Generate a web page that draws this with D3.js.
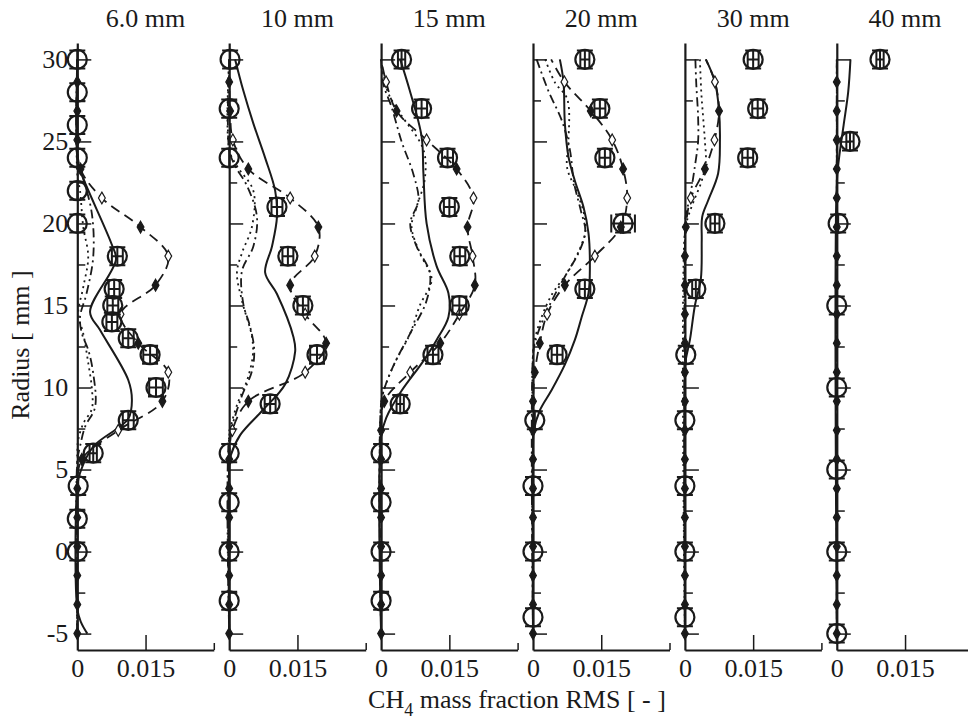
<!DOCTYPE html>
<html>
<head>
<meta charset="utf-8">
<script src="https://cdn.jsdelivr.net/npm/d3@7.9.0/dist/d3.min.js"></script>
<style>
  body { margin: 0; background: #fff; }
  svg text { font-family: "Liberation Serif", "Times New Roman", serif; fill: #1a1a1a; }
</style>
</head>
<body>
<svg id="chart" width="968" height="722"></svg>
<script>
const PANELS = ['6.0 mm', '10 mm', '15 mm', '20 mm', '30 mm', '40 mm'];
const Y_TICKS = [-5, 0, 5, 10, 15, 20, 25, 30];
const Y_MINOR = [-2.5, 2.5, 7.5, 12.5, 17.5, 22.5, 27.5];
const X_TICKS = [0, 0.015];

// radius of the marker points on the dashed model curve
const MARK_Y = [-5, -3.23, -1.46, 0.31, 2.08, 3.85, 5.62, 7.39, 9.16, 10.93, 12.70,
  14.47, 16.24, 18.01, 19.78, 21.55, 23.32, 25.09, 26.86, 28.63];

// experiments: [rms, radius, x error]
const exp06 = [[0,30,0],[0,28,0],[0,26,0],[0,24,0],[0,22,0],[0,20,0],[0.0088,18,0.0012],
  [0.0081,16,0.0012],[0.0078,15,0.0012],[0.0076,14,0.0012],[0.0112,13,0.0012],[0.016,12,0.0015],
  [0.0173,10,0.0015],[0.0112,8,0.0012],[0.0035,6,0.0008],[0.0002,4,0],[0,2,0],[0,0,0]];
const exp10 = [[0.0002,30,0],[0,27,0],[0,24,0],[0.0105,21,0.0012],[0.0129,18,0.0012],
  [0.0162,15,0.0012],[0.0193,12,0.0015],[0.009,9,0.0012],[0,6,0],[0,3,0],[0,0,0],[0,-3,0]];
const exp15 = [[0.0045,30,0.0008],[0.0089,27,0.0012],[0.0146,24,0.0012],[0.015,21,0.0012],
  [0.0173,18,0.0012],[0.0172,15,0.0015],[0.0114,12,0.0012],[0.0042,9,0.0008],[0,6,0],[0,3,0],[0,0,0],[0,-3,0]];
const exp20 = [[0.0114,30,0.001],[0.0147,27,0.0012],[0.0158,24,0.0012],[0.0198,20,0.0026],
  [0.0114,16,0.0012],[0.0053,12,0.0012],[0.0004,8,0],[0,4,0],[0,0,0],[0,-4,0]];
const exp30 = [[0.015,30,0.0012],[0.016,27,0.0012],[0.0138,24,0.0012],[0.0066,20,0.001],
  [0.0024,16,0.0008],[0.0002,12,0],[0,8,0],[0,4,0],[0,0,0],[0,-4,0]];
const exp40 = [[0.0095,30,0.0008],[0.0029,25,0.0008],[0.0003,20,0],[0,15,0],[0,10,0],[0,5,0],[0,0,0],[0,-5,0]];

// solid model curve: [rms, radius]
const solid06 = [[0,30],[0,24],[0.0006,23.25],[0.0076,18.7],[0.0085,17.8],[0.0028,14.6],[0.005,13.5],
  [0.0112,10.46],[0.012,9.24],[0.0112,8.1],[0.0035,6.4],[0.0006,4.8],[0,4],[0,-3.5],[0.0008,-4.3],[0.0022,-5]];
const solid10 = [[0.0013,30],[0.0031,28.1],[0.0053,26.1],[0.0079,24],[0.0101,22],[0.0105,20.4],[0.0094,18.6],
  [0.0079,17],[0.0105,15.7],[0.0141,13.1],[0.0145,12.2],[0.0123,10.2],[0.0073,8.6],[0.0024,7.1],[0.0004,5.9],[0,5],[0,-5]];
const solid15 = [[0.0042,30],[0.0063,28.1],[0.0089,25.3],[0.0093,23.05],[0.01,20],[0.0122,17.4],[0.0148,15.75],
  [0.0148,14.3],[0.0122,12.9],[0.009,11.5],[0.0045,9.8],[0.0012,8.2],[0,7],[0,-5]];
const solid20 = [[0.0059,30],[0.0067,28.64],[0.007,26.1],[0.0078,24.06],[0.0092,22.6],[0.0111,21],[0.0122,19.4],
  [0.0125,17.4],[0.0122,15.75],[0.0107,14.3],[0.0092,12.9],[0.007,11.4],[0.004,9.8],[0.0015,8.6],[0.0002,7.4],[0,6.5],[0,-5]];
const solid30 = [[0.0046,30],[0.0066,28.64],[0.0075,26.87],[0.0077,25.1],[0.0073,23.05],[0.0051,21.4],[0.0038,20.4],
  [0.0037,19],[0.0035,16.6],[0.0022,15],[0.0011,12.9],[0.0002,11.7],[0,11],[0,-5]];
const solid40 = [[0.003,30],[0.0025,28],[0.0015,26],[0.0005,24],[0,22.5],[0,-5]];

// dashed model curve with diamonds: rms at MARK_Y, then the value at r = 30
const diam06 = [0,0,0,0,0,0,0.001,0.009,0.0187,0.02,0.0134,0.0095,0.0172,0.02,0.0139,0.0054,0.0007,0,0,0];
const diam10 = [0,0,0,0,0,0,0,0.0007,0.0042,0.0167,0.0213,0.0167,0.0134,0.0188,0.0196,0.0134,0.0042,0.0008,0.0002,0];
const diam15 = [0,0,0,0,0,0,0,0,0.0007,0.0064,0.013,0.0172,0.0206,0.0201,0.019,0.0203,0.0166,0.01,0.0034,0.0011];
const diam20 = [0,0,0,0,0,0,0,0,0,0.0004,0.0015,0.0031,0.007,0.0136,0.0193,0.0207,0.0198,0.0174,0.0127,0.0069];
const diam30 = [0,0,0,0,0,0,0,0,0,0,0,0,0,0,0.0002,0.0013,0.0044,0.0065,0.0075,0.0066];
const diam40 = [0,0,0,0,0,0,0,0,0,0,0,0,0,0,0,0,0,0,0,0];
const diamTop = [0, 0, 0, 0.004, 0.0046, 0];

// dash-dot model curve
const dashdot06 = [[0,30],[0,24],[0.001,23.05],[0.0032,20.6],[0.0035,17.97],[0.002,15.7],[0.0006,14.3],[0.001,13.3],
  [0.0024,12.3],[0.0035,10.86],[0.0039,8.8],[0.0017,7.6],[0.0006,6.4],[0,5.5],[0,-5]];
const dashdot10 = [[0,30],[0,24.5],[0.0013,23.5],[0.0039,22.3],[0.0061,20.4],[0.0053,18.6],[0.0028,17.1],[0.0031,15.1],
  [0.0046,13.7],[0.0055,12.3],[0.005,11],[0.0028,9.5],[0.001,8],[0,7],[0,-5]];
const dashdot15 = [[0,30],[0.0005,28.5],[0.0023,27.1],[0.0045,25],[0.0071,23],[0.0082,21.4],[0.0064,20],[0.0078,18.6],
  [0.0107,17],[0.01,15.3],[0.0064,13.3],[0.003,11.5],[0.0008,10],[0,9],[0,-5]];
const dashdot20 = [[0.0008,30],[0.0035,28],[0.0063,26.3],[0.0081,24.5],[0.009,22.5],[0.0105,20.8],[0.0115,19.5],
  [0.01,18.2],[0.0075,17],[0.0045,15.5],[0.002,14],[0.0005,12.8],[0,12],[0,-5]];
const dashdot30 = [[0.0023,30],[0.0025,28.5],[0.0029,26.5],[0.0029,25],[0.0022,23.5],[0.0011,21.6],[0.0002,20.5],[0,19.5],[0,-5]];
const dashdot40 = [[0,30],[0,-5]];

// dotted model curve
const dotted06 = [[0,30],[0,23],[0.0006,22],[0.0013,19.8],[0.0024,17.97],[0.0013,16.1],[0.0002,14.5],[0.0013,13.3],
  [0.0024,11.5],[0.0032,9.95],[0.0032,8.7],[0.0013,7.8],[0.0002,6.8],[0,6],[0,-5]];
const dotted10 = [[0,30],[0,24.5],[0.0017,23.5],[0.0053,22],[0.005,19.8],[0.0028,18.2],[0.0017,17],[0.0028,15.3],
  [0.005,13.1],[0.0052,12],[0.004,10.5],[0.0018,9],[0.0005,7.8],[0,7],[0,-5]];
const dotted15 = [[0,30],[0.0015,28],[0.0042,26.7],[0.0093,24.5],[0.0096,22.7],[0.0078,21],[0.0067,19.8],[0.0085,18.2],
  [0.0111,16.6],[0.0085,15],[0.0064,13.3],[0.003,11.5],[0.0008,10],[0,9],[0,-5]];
const dotted20 = [[0.0027,30],[0.0048,28.6],[0.0075,27.6],[0.0078,25],[0.0075,23.4],[0.0095,22],[0.0112,20.6],
  [0.0115,19.5],[0.0105,18.6],[0.008,17.2],[0.004,15.6],[0.0015,14],[0.0003,12.8],[0,12],[0,-5]];
const dotted30 = [[0.0033,30],[0.0036,28],[0.004,26.5],[0.0044,25],[0.0046,23.8],[0.0037,22.6],[0.002,21.4],[0.0007,20.4],[0,19.5],[0,-5]];
const dotted40 = [[0,30],[0,-5]];

const EXP = [exp06, exp10, exp15, exp20, exp30, exp40];
const SOLID = [solid06, solid10, solid15, solid20, solid30, solid40];
const DIAM = [diam06, diam10, diam15, diam20, diam30, diam40];
const DASHDOT = [dashdot06, dashdot10, dashdot15, dashdot20, dashdot30, dashdot40];
const DOTTED = [dotted06, dotted10, dotted15, dotted20, dotted30, dotted40];

const INK = '#1a1a1a';
const FONT = 26;
const left0 = 77.3, step = 151.9, panelW = 136.5;
const plotTop = 43, plotBottom = 650;

const svg = d3.select('#chart');
const y = d3.scaleLinear().domain([-6, 31]).range([plotBottom, plotTop]);

PANELS.forEach((title, i) => {
  const left = left0 + i * step;
  const x = d3.scaleLinear().domain([0, 0.03]).range([left, left + panelW]);
  const g = svg.append('g');

  const line = d3.line()
    .x(d => x(d[0]))
    .y(d => y(d[1]))
    .curve(d3.curveCatmullRom.alpha(0.5));

  // model curves
  g.append('path').datum(DOTTED[i]).attr('d', line)
    .attr('fill', 'none').attr('stroke', INK).attr('stroke-width', 1.8).attr('stroke-dasharray', '2,4');
  g.append('path').datum(DASHDOT[i]).attr('d', line)
    .attr('fill', 'none').attr('stroke', INK).attr('stroke-width', 1.8).attr('stroke-dasharray', '9,4,2,4');

  const diamPts = MARK_Y.map((r, k) => [DIAM[i][k], r]);
  g.append('path').datum(diamPts.concat([[diamTop[i], 30]])).attr('d', line)
    .attr('fill', 'none').attr('stroke', INK).attr('stroke-width', 1.8).attr('stroke-dasharray', '10,6');

  g.append('path').datum(SOLID[i]).attr('d', line)
    .attr('fill', 'none').attr('stroke', INK).attr('stroke-width', 2);

  g.selectAll('path.diamond').data(diamPts).join('path')
    .attr('class', 'diamond')
    .attr('d', d3.symbol(d3.symbolDiamond, 40))
    .attr('transform', d => `translate(${x(d[0])},${y(d[1])})`)
    .attr('fill', (d, k) => (d[0] < 0.0005 || k % 2 === 0) ? INK : '#fff')
    .attr('stroke', INK).attr('stroke-width', 1.2);

  // axes
  const yAxis = g.append('g').attr('transform', `translate(${left},0)`)
    .call(d3.axisLeft(y).tickValues(Y_TICKS).tickSizeInner(-14).tickSizeOuter(0).tickPadding(9)
      .tickFormat(i === 0 ? d => String(d) : () => ''));
  yAxis.select('.domain').attr('stroke', INK).attr('stroke-width', 2.2);
  yAxis.selectAll('.tick line').attr('stroke', INK).attr('stroke-width', 1.5);
  yAxis.selectAll('text').attr('font-size', FONT).attr('font-family', null).attr('fill', INK);

  const yMinor = g.append('g').attr('transform', `translate(${left},0)`)
    .call(d3.axisLeft(y).tickValues(Y_MINOR).tickSizeInner(-8).tickSizeOuter(0).tickFormat(() => ''));
  yMinor.select('.domain').remove();
  yMinor.selectAll('.tick line').attr('stroke', INK).attr('stroke-width', 1.5);

  const xAxis = g.append('g').attr('transform', `translate(0,${plotBottom})`)
    .call(d3.axisBottom(x).tickValues(X_TICKS).tickSizeInner(-15).tickSizeOuter(0).tickPadding(9)
      .tickFormat(d => d === 0 ? '0' : '0.015'));
  xAxis.select('.domain').attr('stroke', INK).attr('stroke-width', 2.2);
  xAxis.selectAll('.tick line').attr('stroke', INK).attr('stroke-width', 1.5);
  xAxis.select('.tick line').remove();
  xAxis.selectAll('text').attr('font-size', FONT).attr('font-family', null).attr('fill', INK);

  const xEnd = g.append('g').attr('transform', `translate(0,${plotBottom})`)
    .call(d3.axisBottom(x).tickValues([0.03]).tickSizeInner(-7).tickSizeOuter(0).tickFormat(() => ''));
  xEnd.select('.domain').remove();
  xEnd.selectAll('.tick line').attr('stroke', INK).attr('stroke-width', 1.5);

  // experimental points with error bars
  const pts = g.selectAll('g.exp').data(EXP[i]).join('g')
    .attr('class', 'exp')
    .attr('transform', d => `translate(${x(d[0])},${y(d[1])})`);
  const ry = y(30) - y(30.55);
  pts.append('circle').attr('r', 9.5).attr('fill', 'none').attr('stroke', INK).attr('stroke-width', 2.2);
  pts.append('path')
    .attr('d', `M0,${-ry}V${ry}M-8,${-ry}H8M-8,${ry}H8`)
    .attr('fill', 'none').attr('stroke', INK).attr('stroke-width', 2);
  pts.filter(d => d[2] > 0).append('path')
    .attr('d', d => {
      const e = x(d[2]) - x(0);
      return `M${-e},0H${e}M${-e},-9V9M${e},-9V9`;
    })
    .attr('fill', 'none').attr('stroke', INK).attr('stroke-width', 2);

  g.append('text')
    .attr('x', left + panelW / 2).attr('y', 27)
    .attr('text-anchor', 'middle').attr('font-size', FONT)
    .text(title);
});

svg.append('text')
  .attr('transform', 'translate(29,345) rotate(-90)')
  .attr('text-anchor', 'middle').attr('font-size', FONT)
  .text('Radius [ mm ]');

const xl = svg.append('text')
  .attr('x', 517).attr('y', 708)
  .attr('text-anchor', 'middle').attr('font-size', FONT);
xl.append('tspan').text('CH');
xl.append('tspan').attr('font-size', 18).attr('dy', 8).text('4');
xl.append('tspan').attr('dy', -8).text(' mass fraction RMS [ - ]');
</script>
</body>
</html>
